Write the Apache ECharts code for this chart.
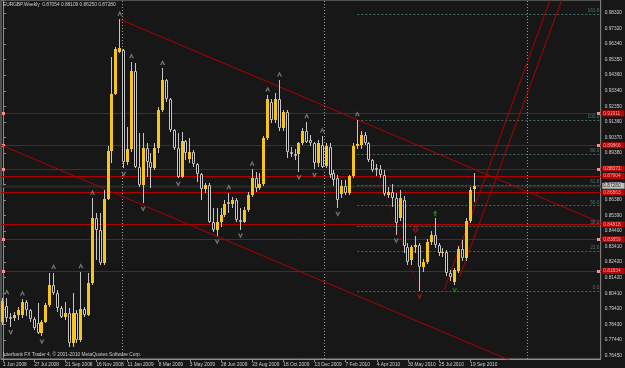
<!DOCTYPE html>
<html><head><meta charset="utf-8">
<script src="https://cdn.jsdelivr.net/npm/echarts@6/dist/echarts.min.js"></script>
<style>html,body{margin:0;padding:0;background:#171717;}#c{width:625px;height:368px;}</style>
</head><body><div id="c"></div><script>
// ---- data ----
const symbolName = "EURGBP,Weekly";
const copyright = "Interbank FX Trader 4, \u00a9 2001-2010 MetaQuotes Software Corp.";
const slotCount = 154; // weekly slots on the time axis (bars + empty future space)
const xTickLabels = ["1 Jun 2008","27 Jul 2008","21 Sep 2008","16 Nov 2008","11 Jan 2009","8 Mar 2009","3 May 2009","28 Jun 2009","23 Aug 2009","18 Oct 2009","13 Dec 2009","7 Feb 2010","4 Apr 2010","30 May 2010","25 Jul 2010","19 Sep 2010"];
const xTickEvery = 8;
const yTickValues = [0.7645,0.7744,0.7843,0.7942,0.8041,0.8142,0.8242,0.8341,0.8440,0.8539,0.8638,0.8737,0.8836,0.8938,0.9037,0.9136,0.9235,0.9334,0.9436,0.9535,0.9634,0.9732,0.9832];
const yMin = 0.7621, yMax = 0.99151;

const open = [0.7860,0.7960,0.7892,0.7881,0.7902,0.7900,0.7988,0.7934,0.7875,0.7853,
0.7785,0.7855,0.7966,0.8094,0.8041,0.7945,0.7892,0.7913,0.7721,0.7913,
0.7743,0.7939,0.7902,0.8105,0.8520,0.8445,0.8232,0.8641,0.8950,0.9314,
0.9585,0.9596,0.8882,0.8961,0.9461,0.8850,0.8733,0.8967,0.8882,0.8840,
0.8967,0.9212,0.9404,0.9280,0.9084,0.8971,0.8786,0.9014,0.8900,0.8946,
0.8865,0.8803,0.8705,0.8733,0.8499,0.8445,0.8499,0.8541,0.8626,0.8612,
0.8637,0.8509,0.8499,0.8573,0.8669,0.8776,0.8712,0.8739,0.9035,0.9265,
0.9148,0.9280,0.9095,0.9202,0.8946,0.8929,0.8929,0.8999,0.9078,0.9020,
0.8999,0.8871,0.8989,0.8854,0.8978,0.8807,0.8776,0.8675,0.8727,0.8680,
0.8790,0.8982,0.8989,0.9052,0.9003,0.8893,0.8839,0.8835,0.8797,0.8669,
0.8686,0.8648,0.8520,0.8640,0.8339,0.8254,0.8335,0.8350,0.8211,0.8243,
0.8371,0.8413,0.8350,0.8296,0.8307,0.8169,0.8115,0.8186,0.8324,0.8264,
0.8503,0.87054];
const high = [0.8009,0.8013,0.7913,0.7924,0.7956,0.8005,0.7998,0.7938,0.7892,0.7977,
0.7870,0.7977,0.8168,0.8173,0.8062,0.7960,0.7988,0.7945,0.8041,0.7934,
0.8179,0.7956,0.8173,0.8648,0.8552,0.8552,0.8701,0.8982,0.9553,0.9617,
0.9792,0.9600,0.9106,0.9521,0.9515,0.9063,0.9063,0.8999,0.8935,0.8999,
0.9233,0.9478,0.9408,0.9287,0.9090,0.9063,0.9074,0.9021,0.9031,0.8957,
0.8872,0.8808,0.8744,0.8744,0.8584,0.8584,0.8584,0.8637,0.8684,0.8658,
0.8648,0.8584,0.8594,0.8691,0.8833,0.8818,0.8807,0.9046,0.9308,0.9280,
0.9319,0.9404,0.9212,0.9212,0.8978,0.8960,0.9010,0.9095,0.9137,0.9052,
0.9010,0.9020,0.9046,0.9000,0.9000,0.8829,0.8797,0.8765,0.8765,0.8800,
0.8999,0.9150,0.9080,0.9070,0.9010,0.8900,0.8870,0.8860,0.8830,0.8720,
0.8740,0.8680,0.8700,0.8660,0.8360,0.8350,0.8410,0.8360,0.8260,0.8385,
0.8440,0.8520,0.8360,0.8330,0.8320,0.8190,0.8200,0.8340,0.8380,0.8520,
0.8720,0.88109];
const low = [0.7838,0.7860,0.7828,0.7866,0.7870,0.7881,0.7896,0.7860,0.7806,0.7779,
0.7768,0.7849,0.7956,0.8030,0.7924,0.7881,0.7870,0.7700,0.7700,0.7726,
0.7732,0.7892,0.7896,0.8094,0.8254,0.8222,0.8222,0.8637,0.8871,0.9308,
0.9574,0.8840,0.8861,0.8946,0.8840,0.8722,0.8616,0.8786,0.8712,0.8829,
0.8935,0.9201,0.9265,0.9074,0.8957,0.8776,0.8780,0.8893,0.8876,0.8850,
0.8755,0.8637,0.8680,0.8492,0.8435,0.8407,0.8467,0.8531,0.8552,0.8584,
0.8499,0.8445,0.8492,0.8563,0.8658,0.8690,0.8701,0.8727,0.9020,0.9127,
0.9127,0.9078,0.9078,0.8903,0.8914,0.8890,0.8818,0.8989,0.8999,0.8982,
0.8833,0.8850,0.8839,0.8839,0.8776,0.8727,0.8584,0.8648,0.8669,0.8669,
0.8780,0.8960,0.8960,0.8990,0.8880,0.8818,0.8790,0.8780,0.8660,0.8650,
0.8590,0.8413,0.8500,0.8300,0.8222,0.8222,0.8300,0.8056,0.8180,0.8230,
0.8350,0.8330,0.8280,0.8270,0.8150,0.8120,0.8095,0.8170,0.8250,0.8250,
0.8490,0.86250];
const close = [0.7992,0.7881,0.7877,0.7902,0.7935,0.7988,0.7934,0.7875,0.7817,0.7785,
0.7855,0.7966,0.8094,0.8041,0.7945,0.7892,0.7917,0.7721,0.7913,0.7743,
0.7939,0.7902,0.8105,0.8520,0.8445,0.8232,0.8641,0.8950,0.9314,0.9600,
0.9606,0.8882,0.8961,0.9461,0.8850,0.8733,0.8967,0.8882,0.8840,0.8967,
0.9212,0.9404,0.9280,0.9084,0.8971,0.8786,0.9014,0.8935,0.8946,0.8865,
0.8803,0.8705,0.8733,0.8499,0.8445,0.8499,0.8541,0.8612,0.8612,0.8637,
0.8509,0.8499,0.8573,0.8669,0.8776,0.8712,0.8739,0.9035,0.9280,0.9148,
0.9280,0.9095,0.9202,0.8946,0.8929,0.8920,0.8999,0.9078,0.9010,0.8999,
0.8871,0.8999,0.8850,0.8982,0.8797,0.8765,0.8637,0.8727,0.8680,0.8790,
0.8982,0.8995,0.9052,0.9003,0.8893,0.8829,0.8829,0.8797,0.8673,0.8686,
0.8648,0.8488,0.8648,0.8340,0.8243,0.8335,0.8350,0.8211,0.8243,0.8371,
0.8413,0.8350,0.8296,0.8307,0.8169,0.8147,0.8190,0.8324,0.8264,0.8503,
0.8700,0.87280];

const fractalUp = [1,5,13,20,23,30,33,41,58,64,68,71,78,82,91];
const fractalDown = [2,10,31,36,45,55,61,76,80,86,101];
const sellArrowBar = [106], sellMarkBar = [107];
const buyArrowBar = [111], buyMarkBar = [116];

const hLevels = [0.91911,0.89866,0.88371,0.87904,0.86863,0.84818,0.83859,0.81834];
const hLevelAnchored = [1,1,1,0,0,0,1,1];
const fibLevels = [0,23.6,38.2,50.0,61.8,80.0,100.0,161.8];
const fibHighBar = 91, fibLowBar = 107;
const channelTop = [[30, 0.9792],[91, 0.9150]];
const channelBottomStart = [0, 0.8983];
const riseLineA = [[113.4, 0.8067],[140.5, 0.99151]];
const riseLineB = [[117.3, 0.8147],[143.5, 0.99151]];
const yearSeparators = [30.5, 82.5, 134.5];

// ---- build ----
const xEnd = slotCount - 0.5, xStart = -0.5;
const cats = Array.from({length: slotCount}, (_, i) => String(i));
const candles = open.map((o, i) => [i, o, close[i], low[i], high[i]]);
const lastI = close.length - 1;

const slopeTop = (channelTop[1][1] - channelTop[0][1]) / (channelTop[1][0] - channelTop[0][0]);
const topAt = x => channelTop[0][1] + slopeTop * (x - channelTop[0][0]);
const botAt = x => channelBottomStart[1] + slopeTop * (x - channelBottomStart[0]);
const fibHigh = high[fibHighBar], fibLow = low[fibLowBar];
const fibPrice = L => fibLow + (fibHigh - fibLow) * L / 100;

const RED = '#b00000', GRAY = '#c6c6c6', AXIS = '#8c8c8c';
const FONT = 'Liberation Sans', FS = 4.8;
const tickShown = (idx) => idx % xTickEvery === 0 && idx / xTickEvery < xTickLabels.length;

const upPath = 'path://M5,0 L10,10 L7,10 L5,5 L3,10 L0,10 Z';
const downPath = 'path://M0,0 L3,0 L5,5 L7,0 L10,0 L5,10 Z';
const arrowDownPath = 'path://M3,0 L7,0 L7,5 L10,5 L5,10 L0,5 L3,5 Z';
const arrowUpPath = 'path://M5,0 L10,5 L7,5 L7,10 L3,10 L3,5 L0,5 Z';

function ovl(extra) { return Object.assign({xAxisIndex: 1, yAxisIndex: 0, silent: true, animation: false}, extra); }

// crisp straight (horizontal / vertical) segments: rows [x1, y1, x2, y2, endSquares]
function straightSeries(rows, style, z) {
  return ovl({type: 'custom', z: z, clip: true, data: rows, encode: {x: [0, 2], y: [1, 3]},
    renderItem: function (params, api) {
      const p1 = api.coord([api.value(0), api.value(1)]);
      const p2 = api.coord([api.value(2), api.value(3)]);
      const children = [];
      if (Math.abs(p1[1] - p2[1]) < 0.01) {
        const y = Math.round(p1[1]) + 0.5;
        children.push({type: 'line', shape: {x1: p1[0], y1: y, x2: p2[0], y2: y}, style: Object.assign({fill: null}, style)});
        if (api.value(4)) {
          children.push({type: 'rect', shape: {x: Math.round(p1[0]) + 1, y: y - 1.5, width: 3, height: 3}, style: {fill: '#ff8c8c'}});
          children.push({type: 'rect', shape: {x: Math.round(p2[0]) - 4, y: y - 1.5, width: 3, height: 3}, style: {fill: '#ff8c8c'}});
        }
      } else {
        const x = Math.round(p1[0]) + 0.5;
        children.push({type: 'line', shape: {x1: x, y1: p1[1], x2: x, y2: p2[1]}, style: Object.assign({fill: null}, style)});
      }
      return {type: 'group', children};
    }});
}

const series = [];
// dark bid line
series.push(straightSeries([[xStart, close[lastI], xEnd, close[lastI], 0]], {stroke: '#2a2a2a', lineWidth: 2}, 1));
// year separators
series.push(straightSeries(yearSeparators.map(x => [x, yMin, x, yMax, 0]), {stroke: '#9a9a9a', lineWidth: 1, lineDash: [1, 2]}, 2));
// fib levels
series.push(straightSeries(fibLevels.map(L => [fibHighBar, fibPrice(L), xEnd, fibPrice(L), 0]), {stroke: '#3f6a6a', lineWidth: 1, lineDash: [2, 2]}, 3));
// horizontal levels
series.push(straightSeries(hLevels.map((p, k) => [xStart, p, xEnd, p, hLevelAnchored[k]]), {stroke: RED, lineWidth: 1}, 3));
// trend lines
series.push(ovl({type: 'lines', coordinateSystem: 'cartesian2d', z: 4, clip: true,
  lineStyle: {color: RED, width: 1, opacity: 1},
  data: [
    {coords: [channelTop[0], [xEnd, topAt(xEnd)]]},
    {coords: [[xStart, botAt(xStart)], [xEnd, botAt(xEnd)]]},
    {coords: riseLineA}, {coords: riseLineB}
  ]}));
// fib diagonal
series.push(ovl({type: 'lines', coordinateSystem: 'cartesian2d', z: 4,
  lineStyle: {color: RED, width: 1, type: [1, 2], opacity: 1},
  data: [{coords: [[fibHighBar, fibHigh], [fibLowBar, fibLow]]}]}));
// candles
series.push(ovl({type: 'custom', z: 5, data: candles, encode: {x: 0, y: [1, 2, 3, 4]},
  renderItem: function (params, api) {
    const i = api.value(0), o = api.value(1), c = api.value(2), l = api.value(3), h = api.value(4);
    const pH = api.coord([i, h]), pL = api.coord([i, l]), pO = api.coord([i, o]), pC = api.coord([i, c]);
    const px = Math.floor(pH[0]);
    const yH = Math.round(pH[1]), yL = Math.round(pL[1]);
    let yT = Math.round(Math.min(pO[1], pC[1])), yB = Math.round(Math.max(pO[1], pC[1]));
    if (yB - yT < 1) yB = yT + 1;
    const children = [{type: 'line', shape: {x1: px + 0.5, y1: yH, x2: px + 0.5, y2: yL}, style: {stroke: GRAY, lineWidth: 1}}];
    if (c >= o) {
      children.push({type: 'rect', shape: {x: px - 1, y: yT, width: 3, height: yB - yT}, style: {fill: '#f6c516'}});
    } else {
      children.push({type: 'rect', shape: {x: px - 0.5, y: yT + 0.5, width: 2, height: Math.max(0, yB - yT - 1)}, style: {fill: '#000', stroke: GRAY, lineWidth: 1}});
    }
    return {type: 'group', children};
  }}));
// fractals
series.push(ovl({type: 'scatter', z: 6, symbol: upPath, symbolSize: [5, 5], symbolOffset: [0, -6],
  itemStyle: {color: '#8e8e8e'}, data: fractalUp.map(i => [i, high[i]])}));
series.push(ovl({type: 'scatter', z: 6, symbol: downPath, symbolSize: [5, 5], symbolOffset: [0, 6],
  itemStyle: {color: '#8e8e8e'}, data: fractalDown.map(i => [i, low[i]])}));
series.push(ovl({type: 'scatter', z: 6, symbol: arrowDownPath, symbolSize: [5, 6], symbolOffset: [0, -6],
  itemStyle: {color: 'transparent', borderColor: '#d01010', borderWidth: 1}, data: sellArrowBar.map(i => [i, high[i]])}));
series.push(ovl({type: 'scatter', z: 6, symbol: downPath, symbolSize: [5, 5], symbolOffset: [0, 6],
  itemStyle: {color: '#c01818'}, data: sellMarkBar.map(i => [i, low[i]])}));
series.push(ovl({type: 'scatter', z: 6, symbol: arrowUpPath, symbolSize: [5, 6], symbolOffset: [0, -5],
  itemStyle: {color: '#1f8a1f'}, data: buyArrowBar.map(i => [i, high[i]])}));
series.push(ovl({type: 'scatter', z: 6, symbol: downPath, symbolSize: [5, 5], symbolOffset: [0, 6],
  itemStyle: {color: '#1f8a1f'}, data: buyMarkBar.map(i => [i, low[i]])}));
// fib labels
series.push(ovl({type: 'scatter', z: 7, symbolSize: 0, clip: false,
  data: fibLevels.map(L => [xEnd - 0.3, fibPrice(L), L]),
  label: {show: true, position: 'left', distance: 0, offset: [0, -3], color: '#5a8a8a', fontSize: FS, fontFamily: FONT,
    formatter: p => p.value[2].toFixed(1)}}));
// right-side price labels
series.push(ovl({type: 'scatter', z: 8, symbolSize: 0, clip: false,
  data: hLevels.map(p => [xEnd - 0.1, p]),
  label: {show: true, position: 'right', distance: 2, color: '#ffc4c4', backgroundColor: '#e00000', fontSize: FS, fontFamily: FONT,
    padding: [0, 4, 0, 1], lineHeight: 6, formatter: p => p.value[1].toFixed(5)}}));
series.push(ovl({type: 'scatter', z: 8, symbolSize: 0, clip: false,
  data: [[xEnd - 0.1, close[lastI]]],
  label: {show: true, position: 'right', distance: 2, color: '#000', backgroundColor: '#e6e6e6', fontSize: FS, fontFamily: FONT,
    padding: [0, 4, 0, 1], lineHeight: 6, formatter: p => p.value[1].toFixed(5)}}));

const option = {
  backgroundColor: '#171717',
  animation: false,
  textStyle: {fontFamily: FONT},
  grid: {left: 0, right: 18, top: 0, bottom: 9, show: true, borderColor: AXIS, borderWidth: 1, backgroundColor: 'transparent'},
  xAxis: [
    {type: 'category', data: cats, boundaryGap: true, position: 'bottom',
      axisLine: {show: true, lineStyle: {color: AXIS}},
      axisTick: {show: true, alignWithLabel: true, length: 3, interval: tickShown, lineStyle: {color: AXIS}},
      axisLabel: {show: true, interval: tickShown, align: 'left', margin: 3, fontSize: FS, color: '#cfcfcf', fontFamily: FONT,
        formatter: (v, idx) => xTickLabels[Math.round(idx / xTickEvery)] || ''},
      splitLine: {show: false}},
    {type: 'value', min: xStart, max: xEnd, show: false}
  ],
  yAxis: [{type: 'value', position: 'right', min: yMin, max: yMax, scale: true,
    axisLine: {show: true, lineStyle: {color: AXIS}},
    axisTick: {show: true, length: 3, customValues: yTickValues, lineStyle: {color: AXIS}},
    axisLabel: {show: true, customValues: yTickValues, margin: 4, fontSize: FS, color: '#cfcfcf', fontFamily: FONT,
      formatter: v => v.toFixed(5)},
    splitLine: {show: false}}],
  graphic: [
    {type: 'text', left: 3, top: 2, z: 10, style: {text: symbolName + '  ' + [open[lastI], high[lastI], low[lastI], close[lastI]].map(v => v.toFixed(5)).join(' '), fill: '#cfcfcf', fontSize: FS, fontFamily: FONT}},
    {type: 'text', left: 3, top: 352, z: 10, style: {text: copyright, fill: '#cfcfcf', fontSize: FS, fontFamily: FONT}}
  ],
  series: series
};
const chart = echarts.init(document.getElementById('c'), null, {renderer: 'canvas'});
chart.setOption(option);
</script></body></html>
